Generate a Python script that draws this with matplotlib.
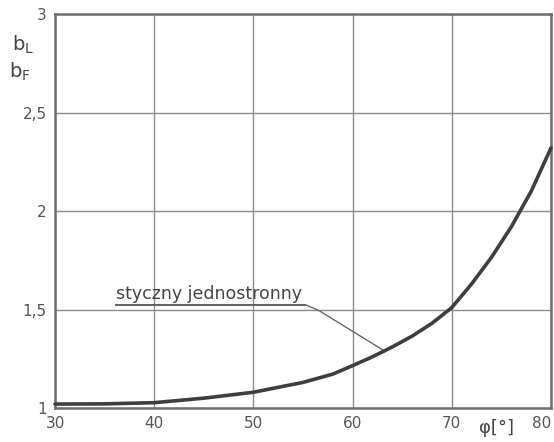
import matplotlib
matplotlib.use("Agg")
import matplotlib.pyplot as plt

# curve
phi = [30, 35, 40, 45, 50, 55, 58, 60, 62, 64, 66, 68, 70, 72, 74, 76, 78, 80]
b = [1.02, 1.021, 1.027, 1.05, 1.08, 1.13, 1.172, 1.215, 1.26, 1.31, 1.365, 1.43, 1.51,
     1.63, 1.765, 1.92, 2.10, 2.32]
xticks = [30, 40, 50, 60, 70, 80]
xlabels = ["30", "40", "50", "60", "70", "80"]
yticks = [1, 1.5, 2, 2.5, 3]
ylabels = ["1", "1,5", "2", "2,5", "3"]
note = "styczny jednostronny"

INK, GRID = "#3e3e3e", "#8a8a8a"
fig = plt.figure(figsize=(5.54, 4.42), dpi=100)
ax = fig.add_axes([0.0993, 0.0769, 0.8953, 0.8914])
ax.set_xlim(30, 80); ax.set_ylim(1, 3)
ax.set_xticks(xticks); ax.set_xticklabels(xlabels)
ax.set_yticks(yticks); ax.set_yticklabels(ylabels)
ax.tick_params(length=0, labelsize=11, colors="#555", pad=6)
ax.get_xticklabels()[-1].set_ha("right")  # last label sits on the edge
ax.grid(True, color=GRID, lw=1.0)
for s in ax.spines.values():
    s.set_color("#6e6e6e"); s.set_linewidth(1.8)

ax.plot(phi, b, color=INK, lw=2.6, solid_capstyle="round", clip_on=False, zorder=3)

# label with underline and leader
ax.text(36.1, 1.535, note, fontsize=12.5, color="#444", va="bottom", ha="left")
ax.plot([36.1, 55.2], [1.525, 1.525], color="#555", lw=1.3)
ax.plot([55.2, 56.6, 63.2], [1.525, 1.495, 1.29], color="#666", lw=1.0)

fig.text(0.022, 0.885, r"b$_\mathrm{L}$", fontsize=14, color="#444")
fig.text(0.017, 0.825, r"b$_\mathrm{F}$", fontsize=14, color="#444")
fig.text(0.865, 0.02, "φ[°]", fontsize=13, color="#444")

fig.savefig("out.png", dpi=100)
